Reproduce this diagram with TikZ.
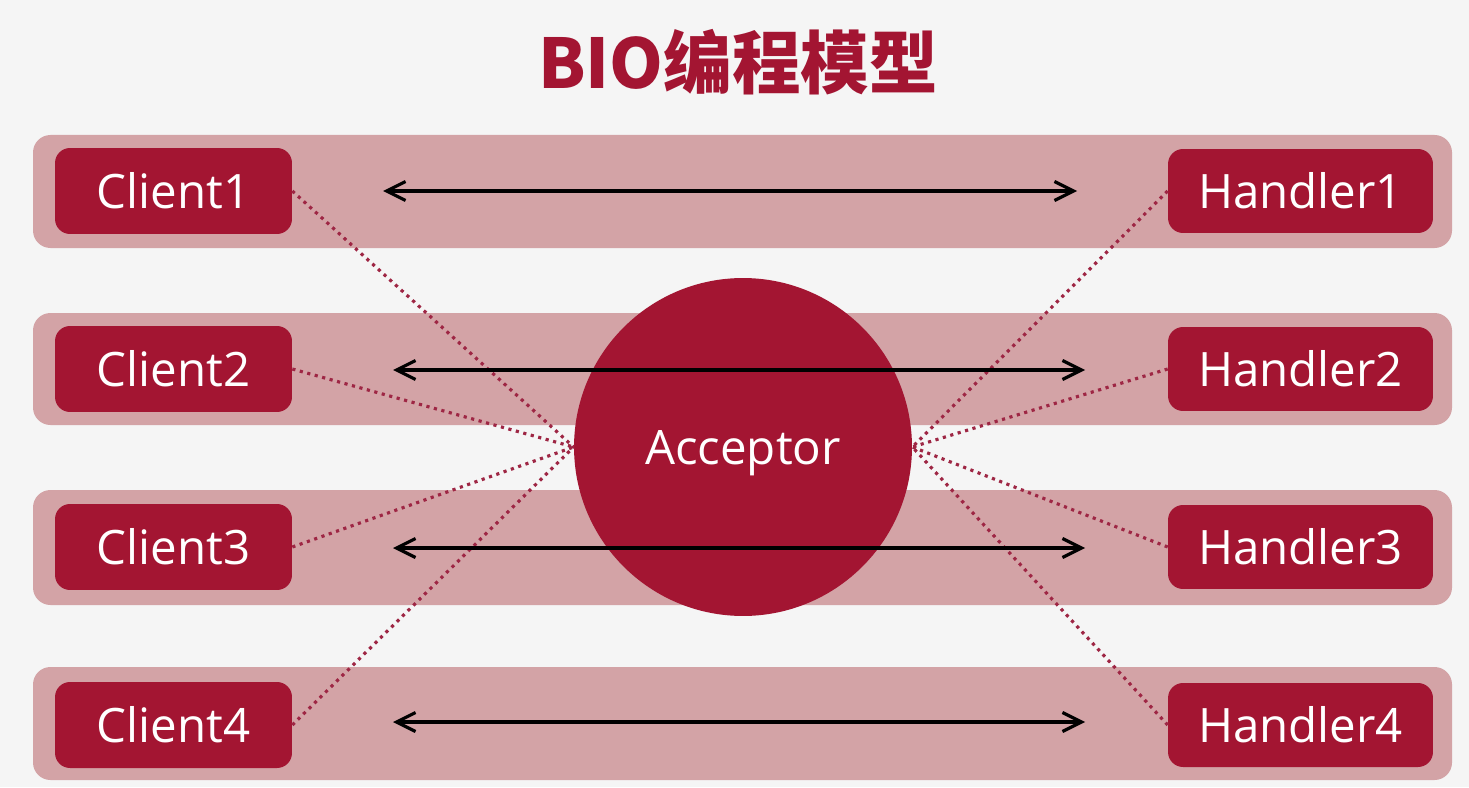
\documentclass[tikz,border=0pt]{standalone}
\usepackage{fontspec}
\setmainfont{Open Sans}
\newfontfamily\titlefont{Noto Sans CJK SC}
\usetikzlibrary{arrows.meta}

\definecolor{bioRed}{RGB}{163,21,50}
\definecolor{bandPink}{RGB}{211,163,166}
\definecolor{bgGray}{RGB}{245,245,245}
\definecolor{dotRed}{RGB}{158,38,68}

\begin{document}
\begin{tikzpicture}[x=0.02cm, y=-0.02cm,
    band/.style={fill=bandPink, rounded corners=0.35cm},
    client/.style={fill=bioRed, text=white, rounded corners=0.3cm,
      minimum width=4.74cm, minimum height=1.72cm, inner sep=0pt,
      font=\fontsize{27}{30}\selectfont},
    handler/.style={client, minimum width=5.3cm, minimum height=1.68cm},
    link/.style={dotRed, line width=1.8pt, dash pattern=on 1.8pt off 2.6pt},
    msg/.style={black, line width=1.8pt,
      {Straight Barb[length=3.8mm, width=3.8mm]}-{Straight Barb[length=3.8mm, width=3.8mm]}}]

    % background and bands
    \fill[bgGray] (0,0) rectangle (1469,787);
    \useasboundingbox (0,0) rectangle (1469,787);
    \fill[band] (33,135) rectangle (1452,248);
    \fill[band] (33,313) rectangle (1452,425);
    \fill[band] (33,490) rectangle (1452,605);
    \fill[band] (33,667) rectangle (1452,780);

    \node[bioRed, font=\titlefont\bfseries\fontsize{39}{44}\selectfont] (title) at (738,62) {BIO编程模型};

    \node[circle, fill=bioRed, text=white, minimum size=6.76cm, inner sep=0pt, text depth=0pt,
      font=\fontsize{27}{30}\selectfont] (acc) at (743,447) {Acceptor};

    \node[client] (c1) at (173.5,191) {Client1};
    \node[client] (c2) at (173.5,369) {Client2};
    \node[client] (c3) at (173.5,547) {Client3};
    \node[client] (c4) at (173.5,725) {Client4};

    \node[handler] (h1) at (1300.5,191) {Handler1};
    \node[handler] (h2) at (1300.5,369) {Handler2};
    \node[handler] (h3) at (1300.5,547) {Handler3};
    \node[handler] (h4) at (1300.5,725) {Handler4};

    % dotted links to the acceptor
    \draw[link] (c1.east) -- (acc.west);
    \draw[link] (c2.east) -- (acc.west);
    \draw[link] (c3.east) -- (acc.west);
    \draw[link] (c4.east) -- (acc.west);
    \draw[link] (h1.west) -- (acc.east);
    \draw[link] (h2.west) -- (acc.east);
    \draw[link] (h3.west) -- (acc.east);
    \draw[link] (h4.west) -- (acc.east);

    % request / response arrows
    \coordinate (m1l) at (383,191);  \coordinate (m1r) at (1077,191);
    \coordinate (m2l) at (393,370);  \coordinate (m2r) at (1085,370);
    \coordinate (m3l) at (393,548);  \coordinate (m3r) at (1085,548);
    \coordinate (m4l) at (393,722);  \coordinate (m4r) at (1085,722);
    \draw[msg] (m1l) -- (m1r);
    \draw[msg] (m2l) -- (m2r);
    \draw[msg] (m3l) -- (m3r);
    \draw[msg] (m4l) -- (m4r);

\end{tikzpicture}
\end{document}
